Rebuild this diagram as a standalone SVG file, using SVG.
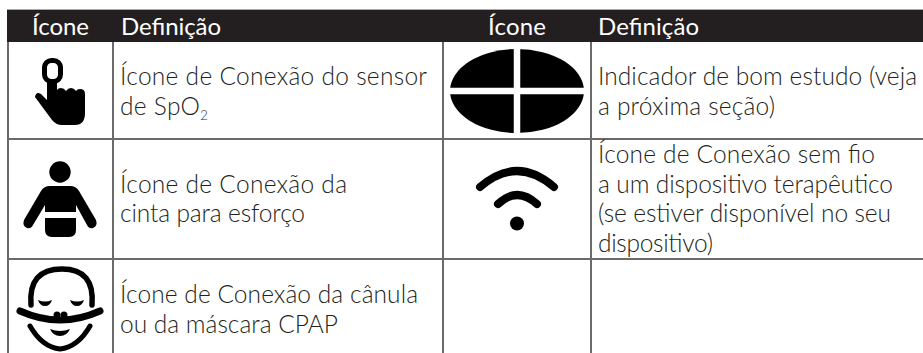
<svg xmlns="http://www.w3.org/2000/svg" width="923" height="353" viewBox="0 0 923 353">
<style>
text{font-family:"Lato","Liberation Sans",sans-serif;font-weight:300;font-size:24.5px;fill:#231f20}
.h{fill:#fff;font-weight:400;font-size:24px}
.g{stroke:#6a6a6a;stroke-width:2;fill:none}
.k{fill:none;stroke:#000;stroke-linecap:round;stroke-linejoin:round}
</style>
<rect width="923" height="353" fill="#fff"/>
<g id="grid">
<rect x="7" y="9" width="916" height="1" fill="#aaa"/>
<rect x="7" y="10" width="916" height="32" fill="#231f20"/>
<path class="g" d="M8 42V353M113 42V353M443 42V353M591 42V353M8 139H923M8 259H923"/>
</g>
<g id="header">
<text class="h" x="32" y="35" textLength="57">Ícone</text><text class="h" x="121" y="35" textLength="100">Definição</text>
<text class="h" x="488" y="35" textLength="58">Ícone</text><text class="h" x="598" y="35" textLength="101">Definição</text>
</g>
<g id="hand">
<path d="M47 83V100L41 94Q36 91 35 97L52 120Q56 125 62 125H75Q85 125 85 113V94Q85 89 80 89Q77 89 76 91Q74 88 71 88Q68 88 66 91Q64 88 61 88Q58 88 57 90V83Z"/>
<rect class="k" x="44.5" y="60.5" width="16" height="21" rx="7" stroke-width="5"/>
</g>
<text x="120" y="85" textLength="307">Ícone de Conexão do sensor</text>
<text x="120" y="115"><tspan textLength="80">de SpO</tspan><tspan font-size="13" dy="5">2</tspan></text>
<g id="torso">
<circle cx="60" cy="172" r="10.7"/>
<path d="M50 186H70Q76 186 79 191L96 220Q98 226 93 228Q89 229 87 225L76 205V212H45V205L33 225Q31 229 27 228Q22 226 24 220L41 191Q44 186 50 186Z"/>
<path d="M45 218H76V230Q76 237 69 237H52Q45 237 45 230Z"/>
</g>
<text x="120" y="193" textLength="227">Ícone de Conexão da</text>
<text x="120" y="222" textLength="185">cinta para esforço</text>
<g id="face">
<path class="k" stroke-width="5.5" d="M31 305Q28 269 62 269Q95 269 92 305"/>
<path class="k" stroke-width="7" d="M20 311Q40 320 60 320Q80 320 100 311"/>
<path class="k" stroke-width="5" d="M30 326Q42 347 60 349Q78 347 90 326"/>
<path d="M38 300Q45 303 52 300Q50 306 45 306Q40 306 38 300ZM70 300Q77 303 84 300Q82 306 77 306Q72 306 70 300ZM50 329Q60 333 70 329Q67 336 60 336Q53 336 50 329Z"/>
<circle cx="57" cy="315" r="3.5"/><circle cx="64" cy="315" r="3.5"/>
</g>
<text x="120" y="303" textLength="298">Ícone de Conexão da cânula</text>
<text x="120" y="333" textLength="218">ou da máscara CPAP</text>
<g id="indicator">
<ellipse cx="517" cy="91" rx="67" ry="42"/>
<path stroke="#fff" stroke-width="6.5" d="M517 45V137M445 91H589"/>
</g>
<text x="598" y="85" textLength="319">Indicador de bom estudo (veja</text>
<text x="598" y="115" textLength="177">a próxima seção)</text>
<g id="wifi">
<path class="k" stroke-width="8" d="M480 187Q517 155 554 187M498 204Q517 186 537 204"/>
<circle cx="517" cy="223.5" r="7"/>
</g>
<text x="598" y="163" textLength="277">Ícone de Conexão sem fio</text>
<text x="598" y="193" textLength="295">a um dispositivo terapêutico</text>
<text x="598" y="222" textLength="293">(se estiver disponível no seu</text>
<text x="598" y="252" textLength="115">dispositivo)</text>
</svg>
